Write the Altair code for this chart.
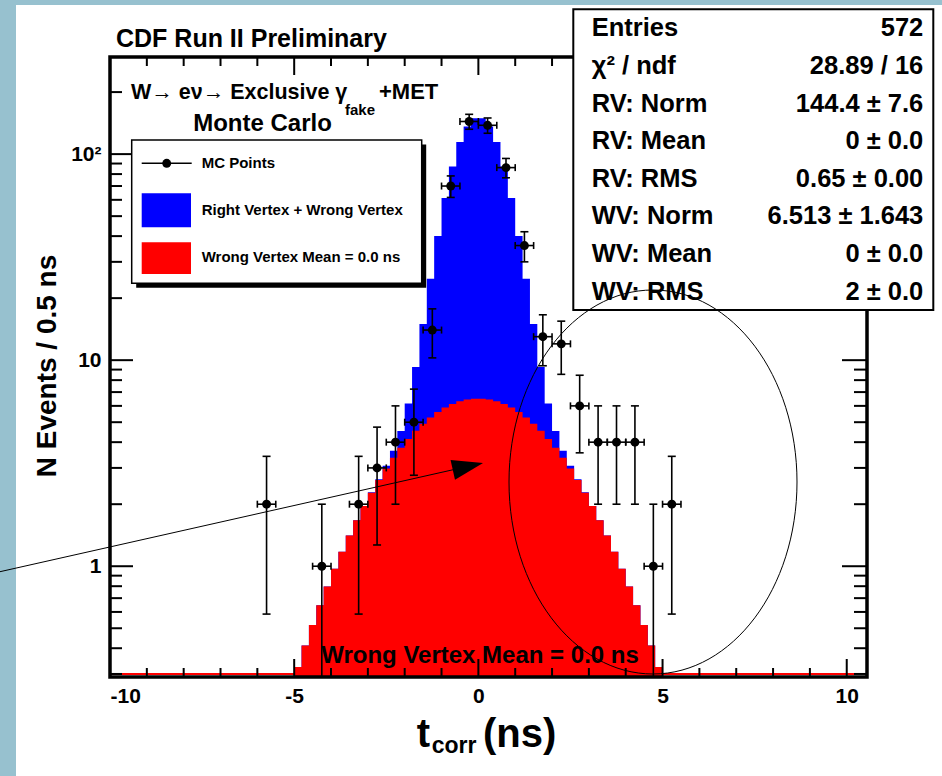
import altair as alt
import numpy as np
import pandas as pd

FONT = "Liberation Sans"
OX, OY = 110, 57                 # plot origin in the 942x776 window
W, H = 757, 620                  # plot area
PAD = {"left": OX, "top": OY, "right": 942 - OX - W, "bottom": 776 - OY - H}

# ---------------- data ----------------
point_x = [-5.75, -4.25, -3.25, -2.75, -2.25, -1.75, -1.25, -0.75, -0.25, 0.25,
           0.75, 1.25, 1.75, 2.25, 2.75, 3.25, 3.75, 4.25, 4.75, 5.25]
point_n = [2, 1, 2, 3, 4, 5, 14, 70, 144, 138, 86, 36, 13, 12, 6, 4, 4, 4, 1, 2]

hist_left = [round(-5.0 + 0.2 * i, 1) for i in range(50)]   # 0.2 ns bins
hist_right_end = 5.0
red_vals = [0.324, 0.412, 0.518, 0.646, 0.797, 0.973, 1.177, 1.409, 1.670, 1.959,
            2.276, 2.618, 2.982, 3.362, 3.753, 4.148, 4.538, 4.916, 5.273, 5.599,
            5.886, 6.126, 6.313, 6.440, 6.505, 6.505, 6.440, 6.313, 6.126, 5.886,
            5.599, 5.273, 4.916, 4.538, 4.148, 3.753, 3.362, 2.982, 2.618, 2.276,
            1.959, 1.670, 1.409, 1.177, 0.973, 0.797, 0.646, 0.518, 0.412, 0.324]
blue_vals = [0.324, 0.412, 0.518, 0.646, 0.797, 0.973, 1.177, 1.409, 1.670, 1.961,
             2.283, 2.644, 3.071, 3.638, 4.535, 6.162, 9.262, 14.99, 24.81, 40.09,
             61.26, 86.99, 114.5, 136.3, 149.2, 149.2, 136.3, 114.5, 86.99, 61.26,
             40.09, 24.81, 14.99, 9.262, 6.162, 4.535, 3.638, 3.071, 2.644, 2.283,
             1.961, 1.670, 1.409, 1.177, 0.973, 0.797, 0.646, 0.518, 0.412, 0.324]

x_major = [-10, -5, 0, 5, 10]
x_minor = [-9, -8, -7, -6, -4, -3, -2, -1, 1, 2, 3, 4, 6, 7, 8, 9]
y_major = [1, 10, 100]
y_minor = [0.3, 0.4, 0.5, 0.6, 0.7, 0.8, 0.9, 2, 3, 4, 5, 6, 7, 8, 9,
           20, 30, 40, 50, 60, 70, 80, 90, 200]

stat_names = ["Entries", "χ² / ndf", "RV: Norm", "RV: Mean", "RV: RMS",
              "WV: Norm", "WV: Mean", "WV: RMS"]
stat_values = ["572", "28.89 / 16", "144.4 ± 7.6", "0 ± 0.0", "0.65 ± 0.00",
               "6.513 ± 1.643", "0 ± 0.0", "2 ± 0.0"]
legend_labels = ["MC Points", "Right Vertex + Wrong Vertex", "Wrong Vertex Mean = 0.0 ns"]

# ---------------- tables ----------------
pts = pd.DataFrame({"x": point_x, "n": point_n})
pts["err"] = np.sqrt(pts["n"])
pts["lo"] = np.maximum(pts["n"] - pts["err"], 0.05)
pts["hi"] = pts["n"] + pts["err"]
pts["xlo"] = pts["x"] - 0.25
pts["xhi"] = pts["x"] + 0.25

hist = pd.DataFrame({
    "e": hist_left + [hist_right_end],
    "blue": blue_vals + [blue_vals[-1]],
    "red": red_vals + [red_vals[-1]],
})

one = pd.DataFrame({"a": [0]})

xs = alt.Scale(domain=[-10, 10.55], nice=False, zero=False)
ys = alt.Scale(type="log", domain=[0.29, 296], nice=False, clamp=True)

x_axis = alt.Axis(values=x_major, labelExpr="'' + datum.value", labelFont=FONT,
                  labelFontWeight="bold", labelFontSize=21, labelColor="black",
                  labelPadding=8, ticks=False, domain=False, grid=False, title="")
y_axis = alt.Axis(values=y_major,
                  labelExpr="datum.value >= 100 ? '10²' : (datum.value >= 10 ? '10' : '1')",
                  labelFont=FONT, labelFontWeight="bold", labelFontSize=21,
                  labelColor="black", labelPadding=9, ticks=False, domain=False,
                  grid=False, title="")


# helpers take window (page) pixel positions of annotations
def txt(text, x, y, size, align="left", baseline="alphabetic", angle=0, weight="bold"):
    return alt.Chart(one).mark_text(
        text=text, align=align, baseline=baseline, fontSize=size, font=FONT,
        fontWeight=weight, color="black", angle=angle
    ).encode(x=alt.value(x - OX), y=alt.value(y - OY))


def box(x1, x2, y1, y2, fill, stroke="", sw=0):
    kw = dict(fill=fill)
    if stroke:
        kw.update(stroke=stroke, strokeWidth=sw)
    return alt.Chart(one).mark_rect(**kw).encode(
        x=alt.value(x1 - OX), x2=alt.value(x2 - OX),
        y=alt.value(y1 - OY), y2=alt.value(y2 - OY))


layers = []
# light blue slide border
BAND = "#97c1cf"
layers.append(box(0, 16, 0, 776, BAND))
layers.append(box(0, 942, 0, 5, BAND))

# histograms
layers.append(alt.Chart(hist).mark_area(interpolate="step-after", color="#0000ff").encode(
    x=alt.X("e:Q", scale=xs, axis=x_axis),
    y=alt.Y("blue:Q", scale=ys, axis=y_axis),
    y2=alt.value(H)))
layers.append(alt.Chart(hist).mark_area(interpolate="step-after", color="#ff0000").encode(
    x=alt.X("e:Q", scale=xs), y=alt.Y("red:Q", scale=ys), y2=alt.value(H)))
layers.append(alt.Chart(one).transform_calculate(lo="-10", hi="10.2").mark_rule(
    color="#ff0000", strokeWidth=2).encode(
    x=alt.X("lo:Q", scale=xs), x2="hi:Q", y=alt.value(H - 3)))

layers.append(txt("Wrong Vertex Mean = 0.0 ns", 480, 663, 24, align="center"))


# ticks (inward, ROOT style)
def vticks(vals, y1, y2):
    return alt.Chart(pd.DataFrame({"t": vals})).mark_rule(color="black", strokeWidth=2).encode(
        x=alt.X("t:Q", scale=xs), y=alt.value(y1), y2=alt.value(y2))


def hticks(vals, x1, x2):
    return alt.Chart(pd.DataFrame({"v": vals})).mark_rule(color="black", strokeWidth=2).encode(
        y=alt.Y("v:Q", scale=ys), x=alt.value(x1), x2=alt.value(x2))


layers += [vticks(x_major, H, H - 18), vticks(x_minor, H, H - 9),
           vticks(x_major, 0, 18), vticks(x_minor, 0, 9),
           hticks(y_major, 0, 23), hticks(y_minor, 0, 12),
           hticks(y_major, W, W - 25), hticks(y_minor, W, W - 13)]

# frame
layers.append(alt.Chart(one).mark_rect(fillOpacity=0, stroke="black", strokeWidth=3.5).encode(
    x=alt.value(0), x2=alt.value(W), y=alt.value(0), y2=alt.value(H)))

# MC points with error bars
base = alt.Chart(pts)
layers.append(base.mark_rule(color="black", strokeWidth=1.6).encode(
    x=alt.X("x:Q", scale=xs), y=alt.Y("lo:Q", scale=ys), y2="hi:Q"))
layers.append(base.mark_rule(color="black", strokeWidth=1.6).encode(
    x=alt.X("xlo:Q", scale=xs), x2="xhi:Q", y=alt.Y("n:Q", scale=ys)))
for fld in ["hi", "lo"]:
    layers.append(base.mark_tick(orient="horizontal", size=8, thickness=1.6,
                                 color="black", opacity=1).encode(
        x=alt.X("x:Q", scale=xs), y=alt.Y(f"{fld}:Q", scale=ys)))
for fld in ["xlo", "xhi"]:
    layers.append(base.mark_tick(orient="vertical", size=7, thickness=1.6,
                                 color="black", opacity=1).encode(
        x=alt.X(f"{fld}:Q", scale=xs), y=alt.Y("n:Q", scale=ys)))
layers.append(base.mark_circle(size=80, color="black", opacity=1).encode(
    x=alt.X("x:Q", scale=xs), y=alt.Y("n:Q", scale=ys)))

# arrow (window coords: from left edge to tip at ~(483, 463))
layers.append(alt.Chart(one).mark_rule(color="black", strokeWidth=1).encode(
    x=alt.value(0 - OX), y=alt.value(571.7 - OY),
    x2=alt.value(453.7 - OX), y2=alt.value(469.6 - OY)))
layers.append(alt.Chart(one).mark_point(
    shape="M 1 0 L -1 -0.65 L -1 0.65 Z", size=961, filled=True, color="black",
    opacity=1, angle=347.3, strokeWidth=0).encode(
    x=alt.value(467.9 - OX), y=alt.value(466.4 - OY)))

# titles
layers.append(txt("CDF Run II Preliminary", 116, 47, 25))
layers.append(txt("W→ eν→ Exclusive γ", 131, 99, 21.5))
layers.append(txt("fake", 345, 115, 15))
layers.append(txt("+MET", 379, 99, 22))
layers.append(txt("Monte Carlo", 262.5, 131, 24, align="center"))
layers.append(txt("N Events / 0.5 ns", 48, 366, 28, align="center", baseline="middle", angle=270))
layers.append(txt("t", 416.7, 746.7, 40))
layers.append(txt("corr", 431.7, 752.5, 23))
layers.append(txt("(ns)", 483, 746.7, 40))

# legend
layers.append(box(136.2, 426.2, 144.5, 287.8, "black"))
layers.append(box(131.7, 421.7, 140, 283.3, "white", "black", 1.5))
layers.append(alt.Chart(one).mark_rule(color="black", strokeWidth=1.5).encode(
    x=alt.value(141.7 - OX), x2=alt.value(191.7 - OX), y=alt.value(163.3 - OY)))
layers.append(alt.Chart(one).mark_circle(size=80, color="black", opacity=1).encode(
    x=alt.value(166.7 - OX), y=alt.value(163.3 - OY)))
layers.append(box(141.7, 191, 193.3, 227.3, "#0000ff"))
layers.append(box(141.7, 191, 242.3, 274, "#ff0000"))
layers.append(txt(legend_labels[0], 201.7, 163.3, 15, baseline="middle"))
layers.append(txt(legend_labels[1], 201.7, 210.3, 15, baseline="middle"))
layers.append(txt(legend_labels[2], 201.7, 257, 15, baseline="middle"))

# stats box
layers.append(box(573.3, 933.3, 9.3, 310, "white", "black", 2))
for i, (nm, vl) in enumerate(zip(stat_names, stat_values)):
    yy = 28.3 + 37.6 * i
    layers.append(txt(nm, 591.7, yy, 25.5, baseline="middle"))
    layers.append(txt(vl, 923.3, yy, 25.5, align="right", baseline="middle"))

# ellipse annotation
ell = ("M 0.75 0 C 0.75 0.5523 0.4142 1 0 1 C -0.4142 1 -0.75 0.5523 -0.75 0 "
       "C -0.75 -0.5523 -0.4142 -1 0 -1 C 0.4142 -1 0.75 -0.5523 0.75 0 Z")
layers.append(alt.Chart(one).mark_point(
    shape=ell, size=384 * 384, filled=False, stroke="black", strokeWidth=1,
    opacity=1).encode(x=alt.value(653 - OX), y=alt.value(482 - OY)))

chart = alt.layer(*layers).properties(
    width=W, height=H, padding=PAD, autosize=alt.AutoSizeParams(type="none"),
    background="white"
).configure_view(stroke="transparent")

chart.save("out.html", embed_options={"renderer": "svg", "actions": False})
